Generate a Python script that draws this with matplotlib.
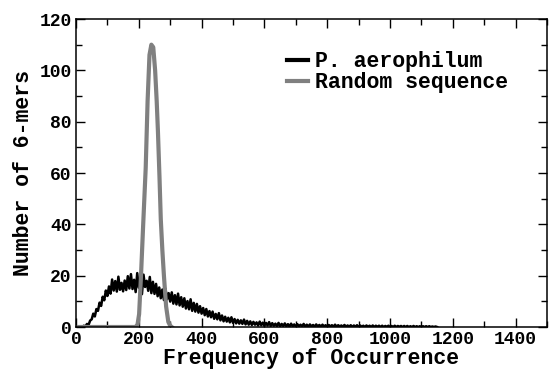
import matplotlib
matplotlib.use("Agg")
import matplotlib.pyplot as plt
import numpy as np
from matplotlib.ticker import MultipleLocator

plt.rcParams["font.family"] = "Liberation Mono"
plt.rcParams["font.weight"] = "bold"
plt.rcParams["xtick.direction"] = "in"
plt.rcParams["ytick.direction"] = "in"

# P. aerophilum 6-mer counts, read every 5 occurrences from 0 to 1150
aero_start, aero_step = 0, 5
aero_counts = [
    0, 0, 0, 0.3, 0, 0.5, 0.2, 1.2, 0.8, 2.5,
    3.0, 5.2, 4.1, 7.0, 6.3, 9.5, 8.2, 11.8, 10.4, 14.2,
    12.1, 15.8, 13.0, 18.5, 14.2, 17.9, 13.8, 19.6, 14.5, 17.2,
    13.9, 18.1, 14.4, 19.8, 15.0, 20.6, 14.8, 18.4, 13.6, 21.0,
    15.3, 19.2, 12.8, 20.4, 15.6, 18.0, 14.1, 19.5, 13.2, 17.6,
    12.9, 16.8, 12.0, 15.4, 11.2, 14.6, 10.5, 14.9, 10.8, 13.2,
    9.9, 13.5, 9.1, 12.4, 8.8, 13.0, 8.4, 11.6, 7.9, 11.2,
    7.2, 10.1, 6.9, 10.8, 6.3, 9.4, 6.0, 9.0, 5.6, 8.1,
    5.2, 7.4, 4.6, 7.0, 4.1, 6.2, 3.8, 6.0, 3.2, 5.1,
    3.0, 5.4, 2.6, 4.5, 2.2, 4.0, 2.1, 3.6, 1.8, 3.8,
    1.6, 3.1, 1.4, 2.8, 1.3, 2.6, 1.2, 2.9, 1.0, 2.4,
    0.9, 2.2, 0.8, 2.0, 0.9, 1.8, 0.6, 2.1, 0.7, 1.7,
    0.5, 1.6, 0.6, 1.9, 0.4, 1.5, 0.5, 1.3, 0.4, 1.6,
    0.3, 1.2, 0.4, 1.4, 0.3, 1.1, 0.2, 1.3, 0.3, 1.0,
    0.2, 1.1, 0.3, 0.9, 0.2, 1.2, 0.1, 0.9, 0.2, 1.0,
    0.2, 0.8, 0.1, 1.0, 0.2, 0.8, 0.1, 0.9, 0.2, 0.7,
    0.1, 0.8, 0.2, 0.7, 0.1, 0.9, 0.1, 0.7, 0.2, 0.6,
    0.1, 0.8, 0.1, 0.6, 0.1, 0.7, 0.0, 0.6, 0.1, 0.7,
    0.0, 0.6, 0.1, 0.5, 0.0, 0.6, 0.1, 0.5, 0.0, 0.6,
    0.0, 0.5, 0.1, 0.5, 0.0, 0.5, 0.0, 0.4, 0.1, 0.5,
    0.0, 0.4, 0.0, 0.5, 0.0, 0.4, 0.1, 0.4, 0.0, 0.4,
    0.0, 0.4, 0.0, 0.3, 0.0, 0.4, 0.0, 0.3, 0.0, 0.3,
    0.0, 0.3, 0.0, 0.3, 0.0, 0.3, 0.0, 0.2, 0.0, 0.2,
    0.0,
]
aero_freq = aero_start + aero_step * np.arange(len(aero_counts))

# random sequence
rand_freq = [0, 150, 190, 196, 201, 207, 214, 222, 228, 234, 240, 246,
             252, 257, 261, 266, 270, 275, 280, 287, 294, 300, 305]
rand_counts = [0, 0, 0, 1, 5, 20, 40, 62, 88, 106, 110, 109,
               100, 88, 76, 58, 42, 30, 20, 8, 2, 0.5, 0]

fig = plt.figure(figsize=(5.51, 3.71), dpi=100)
ax = fig.add_axes([76/551, 1 - 327/371, 471/551, 308/371])

ax.plot(aero_freq, aero_counts, color="black", lw=1.8, label="P. aerophilum")
ax.plot(rand_freq, rand_counts, color="#808080", lw=3.0, label="Random sequence")

ax.set_xlim(0, 1500)
ax.set_ylim(0, 120)
ax.xaxis.set_major_locator(MultipleLocator(200))
ax.xaxis.set_minor_locator(MultipleLocator(100))
ax.yaxis.set_major_locator(MultipleLocator(20))
ax.yaxis.set_minor_locator(MultipleLocator(10))
ax.tick_params(which="both", top=True, right=True, labelsize=13, width=1.0)
ax.tick_params(which="major", length=6.5, pad=3)
ax.tick_params(which="minor", length=4)
for s in ax.spines.values():
    s.set_linewidth(1.1)

ax.set_xlabel("Frequency of Occurrence", fontsize=15.5, fontweight="bold", labelpad=0)
ax.set_ylabel("Number of 6-mers", fontsize=15.5, fontweight="bold", labelpad=4)

leg = ax.legend(loc="upper left", bbox_to_anchor=(0.425, 0.93), frameon=False,
                fontsize=15.5, handlelength=1.0, handletextpad=0.3,
                labelspacing=0.0, borderpad=0)
for h in leg.get_lines():
    h.set_linewidth(3.0)

fig.savefig("out.png", dpi=100)
